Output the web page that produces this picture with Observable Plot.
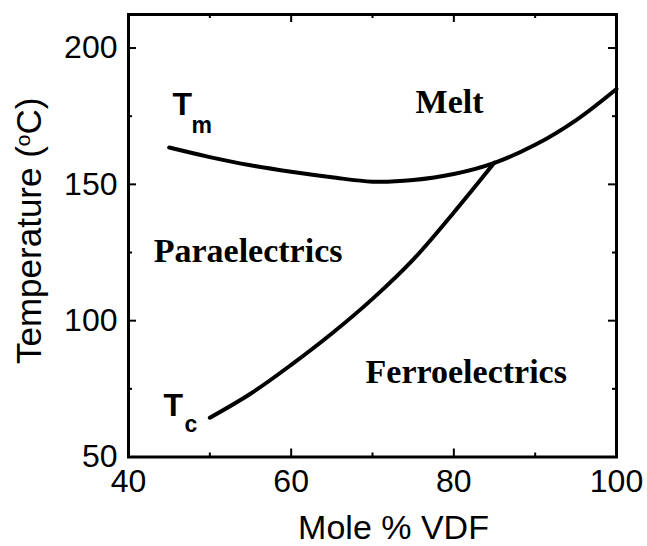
<!DOCTYPE html>
<html><head><meta charset="utf-8">
<script src="https://cdn.jsdelivr.net/npm/d3@7"></script>
<script src="https://cdn.jsdelivr.net/npm/@observablehq/plot@0.6"></script>
<style>body{margin:0;background:#fff}</style>
</head><body><div id="chart"></div>
<script>
// Melting line (Tm)
const tmX = [45, 50, 55, 60, 65, 70, 75, 80, 85, 90, 95, 100];
const tmY = [163.5, 160, 157, 154.6, 152.6, 151.0, 151.6, 153.8, 157.9, 164.5, 173.5, 185];
// Curie line (Tc)
const tcX = [50, 55, 60, 65, 70, 75, 80, 85];
const tcY = [64.4, 73.2, 83.8, 95.3, 108, 122.4, 139.7, 158];
// Ticks
const xMajorTicks = [40, 60, 80, 100];
const xMinorTicks = [50, 70, 90];
const yMajorTicks = [50, 100, 150, 200];
const yMinorTicks = [75, 125, 175];
// Region labels (anchored in data coordinates)
const regionNames = ["Melt", "Paraelectrics", "Ferroelectrics"];
const regionX = [75.3, 43.1, 69.15];
const regionY = [176, 121.4, 77.3];
// Curve symbols: main letter and subscript
const symbolMain = ["T", "T"];
const symbolMainX = [45.4, 44.3];
const symbolMainY = [175.3, 65.2];
const symbolSub = ["m", "c"];
const symbolSubX = [47.75, 46.9];
const symbolSubY = [169.0, 59.0];

const xTitle = "Mole % VDF";
const yTitle = "Temperature (oC)";

const tm = tmX.map((x, i) => ({x, y: tmY[i]}));
const tc = tcX.map((x, i) => ({x, y: tcY[i]}));
const regions = regionNames.map((t, i) => ({t, x: regionX[i], y: regionY[i]}));
const mains = symbolMain.map((t, i) => ({t, x: symbolMainX[i], y: symbolMainY[i]}));
const subs = symbolSub.map((t, i) => ({t, x: symbolSubX[i], y: symbolSubY[i]}));

const sans = "'Liberation Sans', Arial, Helvetica, sans-serif";
const serif = "'Liberation Serif', 'Times New Roman', serif";

const W = 647, H = 546, mL = 128, mR = 31, mT = 14, mB = 89.5;
const fw = W - mL - mR, fh = H - mT - mB;
const major = 8, minor = 4;

const svg = Plot.plot({
  width: W,
  height: H,
  marginLeft: mL,
  marginRight: mR,
  marginTop: mT,
  marginBottom: mB,
  style: {fontFamily: sans, fontSize: "32px", color: "#000", background: "#fff"},
  x: {domain: [40, 100]},
  y: {domain: [50, 212.3]},
  marks: [
    // inward ticks on all four sides
    Plot.ruleX(xMajorTicks, {x: d => d, insetTop: fh - major, stroke: "#000", strokeWidth: 2}),
    Plot.ruleX(xMajorTicks, {x: d => d, insetBottom: fh - major, stroke: "#000", strokeWidth: 2}),
    Plot.ruleX(xMinorTicks, {x: d => d, insetTop: fh - minor, stroke: "#000", strokeWidth: 2}),
    Plot.ruleX(xMinorTicks, {x: d => d, insetBottom: fh - minor, stroke: "#000", strokeWidth: 2}),
    Plot.ruleY(yMajorTicks, {y: d => d, insetRight: fw - major, stroke: "#000", strokeWidth: 2}),
    Plot.ruleY(yMajorTicks, {y: d => d, insetLeft: fw - major, stroke: "#000", strokeWidth: 2}),
    Plot.ruleY(yMinorTicks, {y: d => d, insetRight: fw - minor, stroke: "#000", strokeWidth: 2}),
    Plot.ruleY(yMinorTicks, {y: d => d, insetLeft: fw - minor, stroke: "#000", strokeWidth: 2}),
    // tick labels
    Plot.axisX({anchor: "bottom", ticks: xMajorTicks, tickSize: 0, tickPadding: 12, label: null, fontSize: 32}),
    Plot.axisY({anchor: "left", ticks: yMajorTicks, tickSize: 0, tickPadding: 11, label: null, fontSize: 32}),
    Plot.frame({stroke: "#000", strokeWidth: 3}),
    // curves
    Plot.line(tm, {x: "x", y: "y", curve: "catmull-rom", stroke: "#000", strokeWidth: 4}),
    Plot.line(tc, {x: "x", y: "y", curve: "catmull-rom", stroke: "#000", strokeWidth: 4}),
    // labels
    Plot.text(regions, {x: "x", y: "y", text: "t", textAnchor: "start", lineAnchor: "bottom",
      fontFamily: serif, fontWeight: "bold", fontSize: 34, fill: "#000"}),
    Plot.text(mains, {x: "x", y: "y", text: "t", textAnchor: "start", lineAnchor: "bottom",
      fontFamily: sans, fontWeight: "bold", fontSize: 32, fill: "#000"}),
    Plot.text(subs, {x: "x", y: "y", text: "t", textAnchor: "start", lineAnchor: "bottom",
      fontFamily: sans, fontWeight: "bold", fontSize: 23, fill: "#000"}),
    // axis titles
    Plot.text([xTitle], {frameAnchor: "bottom", textAnchor: "middle", lineAnchor: "bottom", dx: 21, dy: 82,
      fontFamily: sans, fontSize: 34, fill: "#000"}),
    Plot.text([yTitle], {frameAnchor: "left", rotate: -90, textAnchor: "middle", lineAnchor: "top", dx: -112, dy: -5,
      fontFamily: sans, fontSize: 35, fill: "#000"})
  ]
});

// superscript "o" in the y title
const NS = "http://www.w3.org/2000/svg";
for (const t of svg.querySelectorAll("text")) {
  if (t.textContent === yTitle) {
    t.textContent = "";
    const a = document.createElementNS(NS, "tspan"); a.textContent = "Temperature (";
    const b = document.createElementNS(NS, "tspan"); b.textContent = "o";
    b.setAttribute("font-size", "60%"); b.setAttribute("baseline-shift", "super");
    const c = document.createElementNS(NS, "tspan"); c.textContent = "C)";
    t.append(a, b, c);
  }
}
document.getElementById("chart").appendChild(svg);
</script>
</body></html>
